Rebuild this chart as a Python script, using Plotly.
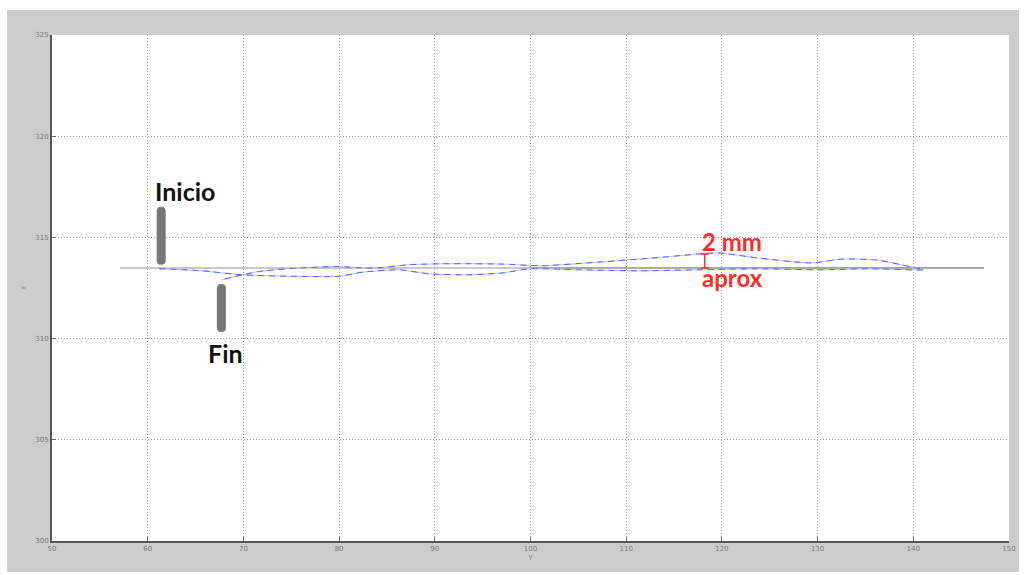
import plotly.graph_objects as go

# Trajectory of the tool tip: outbound pass, then return pass (Y, X in axis units)
path_y = [61.2, 65.4, 69.9, 75.1, 80.0, 82.4, 86.2, 89.4, 93.5, 97.2, 99.8, 105.0, 111.2,
          117.5, 123.8, 130.0, 135.2, 141.1,
          139.7, 136.2, 132.6, 129.3, 123.8, 119.6, 113.3, 107.1, 101.4, 99.8, 97.2, 91.5,
          87.3, 84.2, 82.4, 80.0, 75.1, 71.7, 69.9, 67.7]
path_x = [313.45, 313.36, 313.15, 313.08, 313.08, 313.28, 313.40, 313.20, 313.15, 313.25,
          313.45, 313.40, 313.35, 313.40, 313.45, 313.40, 313.45, 313.40,
          313.55, 313.88, 313.93, 313.74, 313.98, 314.23, 314.00, 313.78, 313.60, 313.62,
          313.68, 313.70, 313.65, 313.50, 313.49, 313.56, 313.47, 313.32, 313.15, 312.90]

# Reference straight line
ref_y = [57.1, 99.8, 147.4]
ref_x = [313.49, 313.49, 313.49]

# Deviation marker
dev_y = 118.2
dev_top = 314.18
dev_bottom = 313.49

x_ticks = [50, 60, 70, 80, 90, 100, 110, 120, 130, 140, 150]
y_ticks = [300, 305, 310, 315, 320, 325]

fig = go.Figure()

# light portion of the reference line, then the dark portion
fig.add_trace(go.Scatter(x=ref_y[:2], y=ref_x[:2], mode="lines",
                         line=dict(color="#c9c9c9", width=2), hoverinfo="skip"))
fig.add_trace(go.Scatter(x=ref_y[1:], y=ref_x[1:], mode="lines",
                         line=dict(color="#555555", width=1), hoverinfo="skip"))

# trajectory: pale solid stroke with darker dashes over it
fig.add_trace(go.Scatter(x=path_y, y=path_x, mode="lines",
                         line=dict(color="#b8bcff", width=1, shape="spline", smoothing=0.6)))
fig.add_trace(go.Scatter(x=path_y, y=path_x, mode="lines",
                         line=dict(color="#5a60ee", width=1, dash="6px,5px",
                                   shape="spline", smoothing=0.6)))


def rounded_bar(h0, h1, dx=0, w=8):
    r = w / 2
    x0, x1 = dx - r, dx + r
    lo, hi = min(h0, h1), max(h0, h1)
    return (f"M {x0},{lo + r} Q {x0},{lo} {dx},{lo} Q {x1},{lo} {x1},{lo + r} "
            f"L {x1},{hi - r} Q {x1},{hi} {dx},{hi} Q {x0},{hi} {x0},{hi - r} Z")


shapes = [
    # grey frame around the plot
    dict(type="rect", xref="paper", yref="paper", x0=-0.0469, x1=1.0104, y0=-0.0613, y1=1.0494,
         fillcolor="#cdcdcd", line=dict(width=0), layer="below"),
    dict(type="rect", xref="paper", yref="paper", x0=0, x1=1, y0=0, y1=1,
         fillcolor="#ffffff", line=dict(width=0), layer="below"),
    # start marker bar
    dict(type="path", xref="x", yref="y", xsizemode="pixel", ysizemode="pixel",
         xanchor=path_y[0], yanchor=path_x[0], path=rounded_bar(4, 62, dx=2, w=9),
         fillcolor="#777777", line=dict(width=0)),
    # end marker bar
    dict(type="path", xref="x", yref="y", xsizemode="pixel", ysizemode="pixel",
         xanchor=path_y[-1], yanchor=path_x[-1], path=rounded_bar(-4, -52, dx=0, w=9),
         fillcolor="#777777", line=dict(width=0)),
    # deviation I-beam
    dict(type="line", xref="x", yref="y", x0=dev_y, x1=dev_y, y0=dev_bottom, y1=dev_top,
         line=dict(color="#ff2a2a", width=1.5)),
    dict(type="line", xref="x", yref="y", xsizemode="pixel", xanchor=dev_y, x0=-4, x1=4,
         y0=dev_top, y1=dev_top, line=dict(color="#ff2a2a", width=1.5)),
    dict(type="line", xref="x", yref="y", xsizemode="pixel", xanchor=dev_y, x0=-4, x1=4,
         y0=dev_bottom, y1=dev_bottom, line=dict(color="#ff2a2a", width=1.5)),
]

annotations = [
    dict(x=63.85, y=317.29, text="<b>Inicio</b>", showarrow=False,
         font=dict(family="Lato", size=25, color="#111111")),
    dict(x=68.13, y=309.29, text="<b>Fin</b>", showarrow=False,
         font=dict(family="Lato", size=25, color="#111111")),
    dict(x=121.04, y=314.82, text="<b>2 mm</b>", showarrow=False,
         font=dict(family="Lato", size=24, color="#ff2a2a")),
    dict(x=121.15, y=313.04, text="<b>aprox</b>", showarrow=False,
         font=dict(family="Lato", size=24, color="#ff2a2a")),
]

axis_common = dict(
    showgrid=True, gridcolor="#9e9e9e", griddash="1px,2px", gridwidth=1,
    showline=True, linecolor="#555555", linewidth=2, mirror=False,
    ticks="inside", ticklen=4, tickcolor="#666666",
    tickfont=dict(family="DejaVu Sans", size=7, color="#777777"),
    zeroline=False,
)

fig.update_layout(
    width=1028, height=575,
    margin=dict(l=52, r=16, t=35, b=34),
    paper_bgcolor="#ffffff",
    plot_bgcolor="rgba(0,0,0,0)",
    showlegend=False,
    shapes=shapes,
    annotations=annotations,
    xaxis=dict(range=[50, 150], tickvals=x_ticks, ticktext=[str(v) for v in x_ticks],
               title=dict(text="Y", font=dict(size=7, color="#777777"), standoff=2),
               **axis_common),
    yaxis=dict(range=[300, 325], tickvals=y_ticks, ticktext=[str(v) for v in y_ticks],
               title=dict(text="X", font=dict(size=7, color="#777777"), standoff=8),
               **axis_common),
)

fig.write_html("out.html")
